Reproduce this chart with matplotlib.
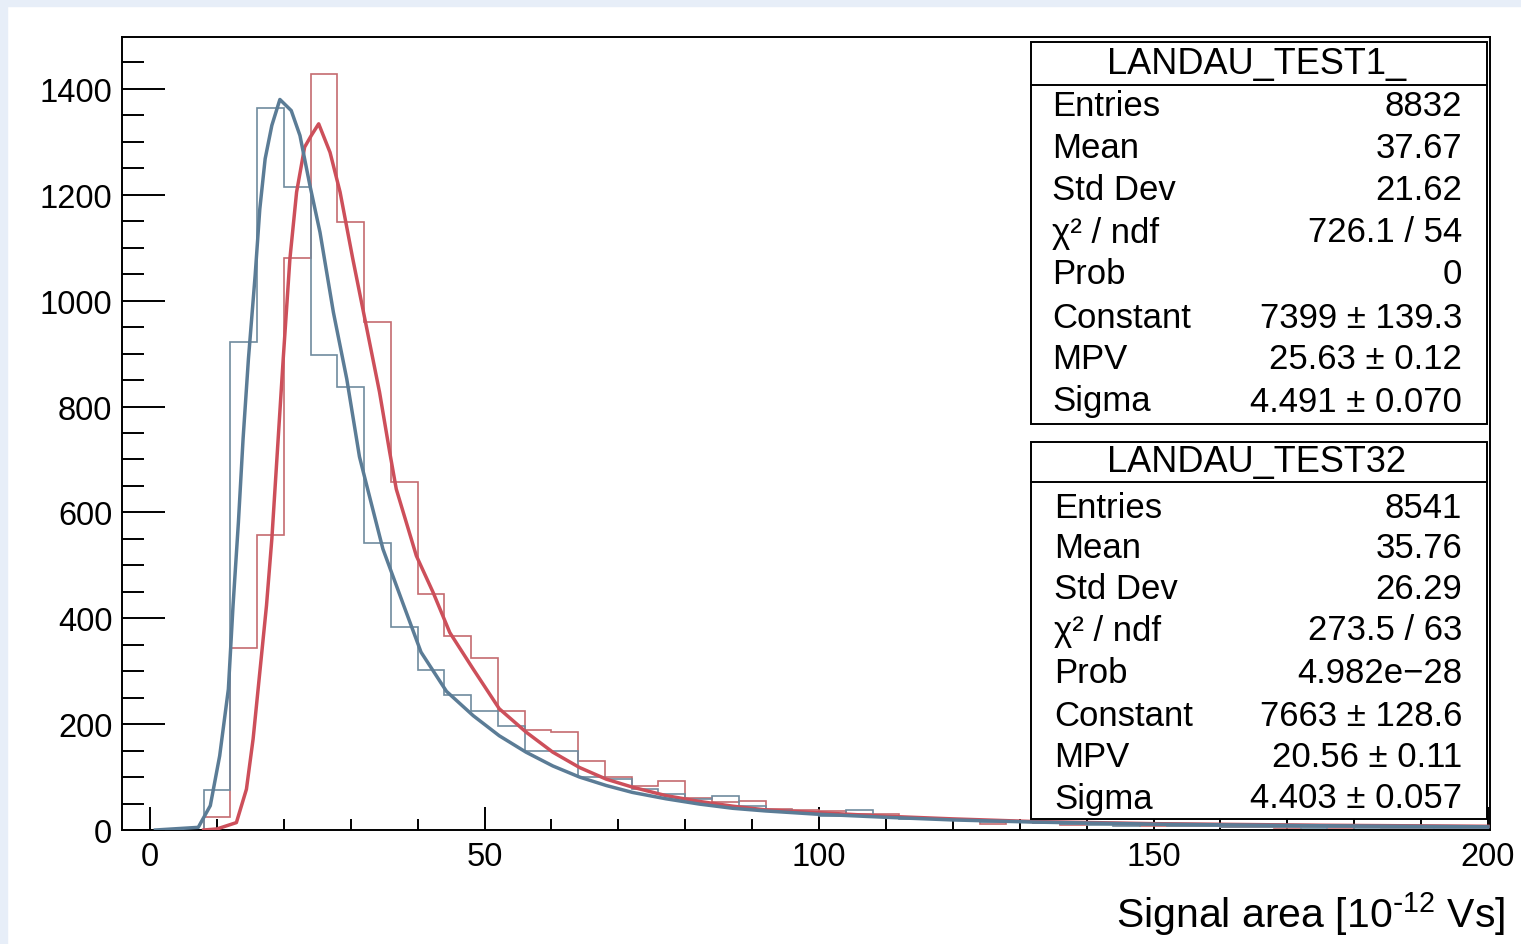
import numpy as np
import matplotlib.pyplot as plt
from matplotlib.patches import Rectangle
from matplotlib.ticker import MultipleLocator

plt.rcParams['font.family'] = ['Liberation Sans', 'DejaVu Sans']
plt.rcParams['mathtext.default'] = 'regular'

W, H = 1521, 945

# histogram binning: 4 units wide, 0..200
bin_edges = np.arange(0, 204, 4)

# LANDAU_TEST1_ (red)
counts_test1 = [0, 0, 25, 344, 557, 1081, 1428, 1149, 959, 657, 446, 367, 324,
                224, 188, 186, 131, 100, 84, 92, 60, 53, 54, 40, 37, 35, 30,
                30, 22, 21, 18, 11, 15,
                13, 10, 12, 9, 8, 8, 7, 6, 5, 4, 5, 4, 6, 4, 3, 3, 2]
# LANDAU_TEST32 (blue)
counts_test32 = [0, 0, 75, 922, 1363, 1214, 897, 836, 543, 383, 302, 255, 224,
                 197, 149, 149, 100, 96, 77, 68, 58, 65, 45, 37, 33, 27, 37,
                 25, 21, 20, 18, 15, 16,
                 14, 12, 10, 8, 9, 7, 8, 6, 6, 5, 4, 5, 3, 4, 3, 2, 3]

# fitted Landau curves
fit1_x = [8, 10, 12.9, 14.4, 15.4, 16.4, 17.4, 18.2, 18.9, 19.9, 20.9, 21.9,
          23.1, 24.1, 25.2, 26.9, 28.4, 30.3, 32.3, 34.3, 35.8, 36.8, 39.8,
          42.3, 44.8, 48.3, 52.2, 56.2, 60.2, 64.2, 68.2, 72.1, 77.1, 82.1,
          87.1, 92, 99.5, 110, 120, 132, 150, 175, 200]
fit1_y = [0, 2, 14, 77, 172, 298, 424, 550, 690, 890, 1079, 1205,
          1290, 1312, 1334, 1280, 1205, 1079, 953, 827, 715, 644, 518,
          449, 373, 304, 229, 185, 147, 118, 96, 81, 65, 54,
          45, 38, 33, 26, 21, 16, 12, 9, 7]

fit32_x = [0.8, 7.2, 9.0, 10.4, 11.7, 12.4, 13.2, 13.9, 14.7, 15.7, 16.4, 17.2,
           18.2, 19.4, 21.1, 22.4, 23.9, 25.4, 27.4, 29.4, 31.3, 32.3, 34.8,
           37.8, 40.5, 44.3, 48.3, 52.2, 56.2, 60.2, 64.2, 68.2, 72.1, 77.1,
           82.1, 87.1, 92, 99.5, 110, 120, 132, 150, 175, 200]
fit32_y = [0, 5, 46, 140, 266, 424, 581, 739, 890, 1047, 1173, 1268,
           1331, 1380, 1359, 1312, 1217, 1129, 978, 852, 705, 655, 531,
           428, 336, 262, 216, 178, 147, 121, 100, 84, 71, 59,
           49, 41, 36, 30, 24, 19, 15, 11, 8, 6]

stats_labels = ['Entries', 'Mean', 'Std Dev', 'χ² / ndf', 'Prob',
                'Constant', 'MPV', 'Sigma']
stats_test1 = ['8832', '37.67', '21.62', '726.1 / 54', '0',
               '7399 ± 139.3', '25.63 ± 0.12', '4.491 ± 0.070']
stats_test32 = ['8541', '35.76', '26.29', '273.5 / 63', '4.982e\u221228',
                '7663 ± 128.6', '20.56 ± 0.11', '4.403 ± 0.057']

red_hist = '#c56b6f'
red_fit = '#cd4f5a'
blue_hist = '#6f8b9e'
blue_fit = '#5b7c96'


def fx(px):
    return px / W


def fy(py):
    return 1 - py / H


fig = plt.figure(figsize=(W / 100, H / 100), dpi=100)
fig.patch.set_facecolor('white')
# light blue frame strips at top and left
fig.add_artist(Rectangle((0, fy(7)), 1, 7 / H, transform=fig.transFigure,
                         color='#e7eef8', zorder=-5))
fig.add_artist(Rectangle((0, 0), 7 / W, 1, transform=fig.transFigure,
                         color='#e7eef8', zorder=-5))

ax = fig.add_axes([fx(122), fy(831), fx(1490) - fx(122), fy(38) - fy(831)])

ax.stairs(counts_test1, bin_edges, color=red_hist, lw=1.2, zorder=2)
ax.stairs(counts_test32, bin_edges, color=blue_hist, lw=1.2, zorder=2)
ax.plot(fit1_x, fit1_y, color=red_fit, lw=2.5, zorder=3)
ax.plot(fit32_x, fit32_y, color=blue_fit, lw=2.5, zorder=4)

ax.set_xlim(-4.2, 200.3)
ax.set_ylim(0, 1498)

ax.xaxis.set_major_locator(MultipleLocator(50))
ax.xaxis.set_minor_locator(MultipleLocator(10))
ax.yaxis.set_major_locator(MultipleLocator(200))
ax.yaxis.set_minor_locator(MultipleLocator(50))
ax.tick_params(axis='both', which='both', direction='in', width=1.4,
               labelsize=23.5, colors='black')
ax.tick_params(axis='y', which='major', length=31, pad=7)
ax.tick_params(axis='y', which='minor', length=16)
ax.tick_params(axis='x', which='major', length=16.5, pad=8)
ax.tick_params(axis='x', which='minor', length=8)
for s in ax.spines.values():
    s.set_linewidth(1.4)

# axis title, with a plain hyphen in the exponent as in the original
fig.text(fx(1505), fy(928), 'Signal area [10$^{\\text{-}12}$ Vs]',
         ha='right', va='baseline', fontsize=29.5)


def stats_box(top, sep, bottom, title, values, row_y, lab_x):
    fig.add_artist(Rectangle((fx(1031), fy(bottom)), fx(1487) - fx(1031),
                             fy(top) - fy(bottom), transform=fig.transFigure,
                             facecolor='white', edgecolor='black', lw=1.4,
                             zorder=10))
    fig.add_artist(plt.Line2D([fx(1031), fx(1487)], [fy(sep), fy(sep)],
                              transform=fig.transFigure, color='black',
                              lw=1.4, zorder=11))
    fig.text(fx(1257), fy((top + sep) / 2), title, ha='center', va='center',
             fontsize=26, zorder=12)
    for lab, val, y in zip(stats_labels, values, row_y):
        fig.text(fx(lab_x), fy(y), lab, ha='left', va='center',
                 fontsize=25, zorder=12)
        fig.text(fx(1462), fy(y), val, ha='right', va='center',
                 fontsize=25, zorder=12)


stats_box(43, 86, 425, 'LANDAU_TEST1_', stats_test1,
          [106, 148, 191, 233, 275, 319, 360, 402], 1052)
stats_box(443, 483, 820, 'LANDAU_TEST32', stats_test32,
          [508, 549, 590, 631, 674, 716, 758, 799], 1054)

fig.savefig('out.png', dpi=100)
